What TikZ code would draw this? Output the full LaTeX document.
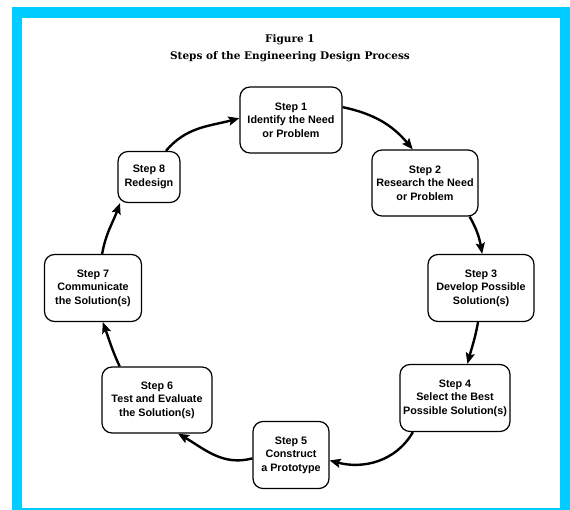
\documentclass[tikz,border=0pt]{standalone}
\usepackage{fontspec}
\setmainfont{DejaVu Serif}
\setsansfont{Liberation Sans}
\usetikzlibrary{arrows.meta}
\begin{document}
\begin{tikzpicture}[x=1pt,y=-1pt,
  stepbox/.style={draw, line width=1.2pt, rounded corners=10pt, fill=white,
    font=\sffamily\bfseries\fontsize{10.8}{13.5}\selectfont, align=center,
    inner sep=0pt, minimum height=66pt},
  titletext/.style={font=\bfseries\fontsize{10.5}{12}\selectfont},
  flow/.style={line width=2.4pt, -{Stealth[length=11pt,width=9pt,inset=2pt]}}]
\useasboundingbox (0,0) rectangle (570,510);
\fill[white] (0,0) rectangle (570,510);
\fill[fill={rgb,255:red,0;green,204;blue,255}] (12,7) rectangle (570,510);
\fill[white] (22,18) rectangle (560,508);
\node[titletext] (t1) at (290,40) {Figure 1};
\node[titletext] (t2) at (290,57) {Steps of the Engineering Design Process};
\node[stepbox, minimum width=102pt] (s1) at (291,120) {Step 1\\Identify the Need\\or Problem};
\node[stepbox, minimum width=106pt] (s2) at (425,183) {Step 2\\Research the Need\\or Problem};
\node[stepbox, minimum width=106pt, minimum height=67pt] (s3) at (481,288) {Step 3\\Develop Possible\\Solution(s)};
\node[stepbox, minimum width=110pt, minimum height=67pt] (s4) at (455,398) {Step 4\\Select the Best\\Possible Solution(s)};
\node[stepbox, minimum width=76pt, minimum height=67pt] (s5) at (291,455) {Step 5\\Construct\\a Prototype};
\node[stepbox, minimum width=110pt] (s6) at (157,400) {Step 6\\Test and Evaluate\\the Solution(s)};
\node[stepbox, minimum width=97pt, minimum height=67pt] (s7) at (93,288) {Step 7\\Communicate\\the Solution(s)};
\node[stepbox, minimum width=62pt, minimum height=51pt] (s8) at (149,177) {Step 8\\Redesign};
\draw[flow] (s1.14) to[out=-12, in=130] (s2.110);
\draw[flow] (s2.-37) to[out=-60, in=100] (s3.88);
\draw[flow] (s3.-95) to[out=-100, in=75] (s4.70);
\draw[flow] (s4.-141) to[out=-120, in=-15] (s5.-8);
\draw[flow] (s5.185) to[out=195, in=-30] (s6.-58);
\draw[flow] (s6.138) to[out=115, in=-70] (s7.-74);
\draw[flow] (s7.75) to[out=80, in=-110] (s8.-138);
\draw[flow] (s8.57) to[out=50, in=195] (s1.178);
\end{tikzpicture}
\end{document}
